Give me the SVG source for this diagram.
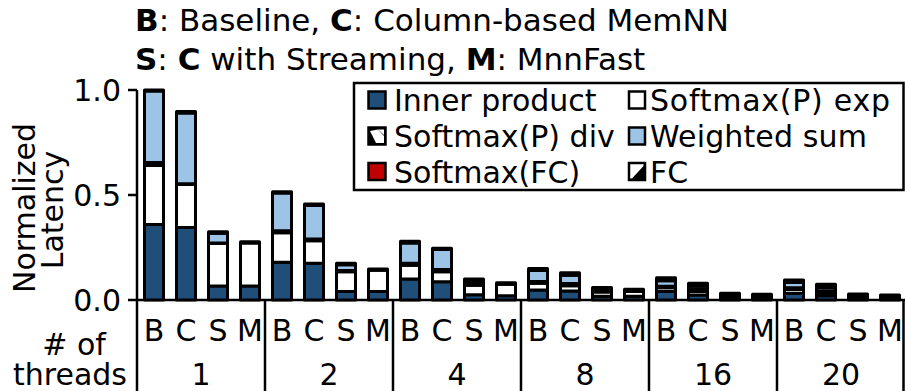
<svg xmlns="http://www.w3.org/2000/svg" width="905" height="391" viewBox="0 0 905 391">
<style>
text{font-family:"DejaVu Sans","Liberation Sans",sans-serif;font-size:30px;fill:#000}
.t{font-size:31px}
.b{font-weight:bold}
.ax{stroke:#000;stroke-width:2.5;fill:none}
.seg{stroke:#000;stroke-width:3;stroke-linejoin:round}
.ip{fill:#1f4e79}
.ex{fill:#fff}
.dv{fill:#000}
.ws{fill:#9dc3e6}
.sf{fill:#c00000}
.fc{fill:#000}
.sw{stroke:#000;stroke-width:2.5}
</style>
<rect width="905" height="391" fill="#fff"/>
<g id="title">
<text class="t" x="135" y="31"><tspan class="b">B</tspan>: Baseline, <tspan class="b">C</tspan>: Column-based MemNN</text>
<text class="t" x="135" y="70"><tspan class="b">S</tspan>: <tspan class="b">C</tspan> with Streaming, <tspan class="b">M</tspan>: MnnFast</text>
</g>
<g id="axes">
<line class="ax" x1="137" y1="90" x2="137" y2="391"/>
<line class="ax" x1="128" y1="300" x2="905" y2="300"/>
<line class="ax" x1="128" y1="90" x2="137" y2="90"/>
<line class="ax" x1="128" y1="195" x2="137" y2="195"/>
<line class="ax" x1="265" y1="300" x2="265" y2="391"/>
<line class="ax" x1="393" y1="300" x2="393" y2="391"/>
<line class="ax" x1="521" y1="300" x2="521" y2="391"/>
<line class="ax" x1="649" y1="300" x2="649" y2="391"/>
<line class="ax" x1="777" y1="300" x2="777" y2="391"/>
<line class="ax" x1="903.5" y1="300" x2="903.5" y2="391"/>
<text x="121" y="101" text-anchor="end">1.0</text>
<text x="121" y="206" text-anchor="end">0.5</text>
<text x="121" y="311" text-anchor="end">0.0</text>
<text transform="translate(35,208) rotate(-90)" text-anchor="middle">Normalized</text>
<text transform="translate(63,210) rotate(-90)" text-anchor="middle">Latency</text>
</g>
<g id="bars">
<g id="bar-1-B">
<rect class="seg ip" x="144.5" y="224.4" width="19" height="75.6"/>
<rect class="seg ex" x="144.5" y="165.6" width="19" height="58.8"/>
<rect class="seg dv" x="144.5" y="162.45" width="19" height="3.15"/>
<rect class="seg ws" x="144.5" y="91.05" width="19" height="71.4"/>
<rect class="seg fc" x="144.5" y="90" width="19" height="1.05"/>
</g>
<g id="bar-1-C">
<rect class="seg ip" x="176.5" y="227.55" width="19" height="72.45"/>
<rect class="seg ex" x="176.5" y="184.5" width="19" height="43.05"/>
<rect class="seg dv" x="176.5" y="183.87" width="19" height="0.63"/>
<rect class="seg ws" x="176.5" y="113.1" width="19" height="70.77"/>
<rect class="seg fc" x="176.5" y="111.42" width="19" height="1.68"/>
</g>
<g id="bar-1-S">
<rect class="seg ip" x="208.5" y="285.93" width="19" height="14.07"/>
<rect class="seg ex" x="208.5" y="243.3" width="19" height="42.63"/>
<rect class="seg dv" x="208.5" y="242.88" width="19" height="0.42"/>
<rect class="seg ws" x="208.5" y="233.22" width="19" height="9.66"/>
<rect class="seg fc" x="208.5" y="231.75" width="19" height="1.47"/>
</g>
<g id="bar-1-M">
<rect class="seg ip" x="240.5" y="285.93" width="19" height="14.07"/>
<rect class="seg ex" x="240.5" y="242.88" width="19" height="43.05"/>
<rect class="seg fc" x="240.5" y="241.83" width="19" height="1.05"/>
</g>
<g id="bar-2-B">
<rect class="seg ip" x="272.5" y="262.2" width="19" height="37.8"/>
<rect class="seg ex" x="272.5" y="232.8" width="19" height="29.4"/>
<rect class="seg dv" x="272.5" y="230.7" width="19" height="2.1"/>
<rect class="seg ws" x="272.5" y="192.9" width="19" height="37.8"/>
<rect class="seg fc" x="272.5" y="191.64" width="19" height="1.26"/>
</g>
<g id="bar-2-C">
<rect class="seg ip" x="304.5" y="263.25" width="19" height="36.75"/>
<rect class="seg ex" x="304.5" y="240.78" width="19" height="22.47"/>
<rect class="seg dv" x="304.5" y="239.1" width="19" height="1.68"/>
<rect class="seg ws" x="304.5" y="205.5" width="19" height="33.6"/>
<rect class="seg fc" x="304.5" y="204.03" width="19" height="1.47"/>
</g>
<g id="bar-2-S">
<rect class="seg ip" x="336.5" y="291.6" width="19" height="8.4"/>
<rect class="seg ex" x="336.5" y="271.65" width="19" height="19.95"/>
<rect class="seg dv" x="336.5" y="270.6" width="19" height="1.05"/>
<rect class="seg ws" x="336.5" y="264.72" width="19" height="5.88"/>
<rect class="seg fc" x="336.5" y="263.25" width="19" height="1.47"/>
</g>
<g id="bar-2-M">
<rect class="seg ip" x="368.5" y="291.6" width="19" height="8.4"/>
<rect class="seg ex" x="368.5" y="270.18" width="19" height="21.42"/>
<rect class="seg fc" x="368.5" y="268.92" width="19" height="1.26"/>
</g>
<g id="bar-4-B">
<rect class="seg ip" x="400.5" y="279" width="19" height="21"/>
<rect class="seg ex" x="400.5" y="265.35" width="19" height="13.65"/>
<rect class="seg dv" x="400.5" y="263.25" width="19" height="2.1"/>
<rect class="seg ws" x="400.5" y="242.88" width="19" height="20.37"/>
<rect class="seg fc" x="400.5" y="241.2" width="19" height="1.68"/>
</g>
<g id="bar-4-C">
<rect class="seg ip" x="432.5" y="281.73" width="19" height="18.27"/>
<rect class="seg ex" x="432.5" y="271.65" width="19" height="10.08"/>
<rect class="seg dv" x="432.5" y="269.55" width="19" height="2.1"/>
<rect class="seg ws" x="432.5" y="249.6" width="19" height="19.95"/>
<rect class="seg fc" x="432.5" y="248.13" width="19" height="1.47"/>
</g>
<g id="bar-4-S">
<rect class="seg ip" x="464.5" y="294.75" width="19" height="5.25"/>
<rect class="seg ex" x="464.5" y="285.3" width="19" height="9.45"/>
<rect class="seg dv" x="464.5" y="284.04" width="19" height="1.26"/>
<rect class="seg ws" x="464.5" y="281.52" width="19" height="2.52"/>
<rect class="seg fc" x="464.5" y="279" width="19" height="2.52"/>
</g>
<g id="bar-4-M">
<rect class="seg ip" x="496.5" y="295.8" width="19" height="4.2"/>
<rect class="seg ex" x="496.5" y="284.25" width="19" height="11.55"/>
<rect class="seg fc" x="496.5" y="282.78" width="19" height="1.47"/>
</g>
<g id="bar-8-B">
<rect class="seg ip" x="528.5" y="289.92" width="19" height="10.08"/>
<rect class="seg ex" x="528.5" y="283.2" width="19" height="6.72"/>
<rect class="seg dv" x="528.5" y="281.52" width="19" height="1.68"/>
<rect class="seg ws" x="528.5" y="270.6" width="19" height="10.92"/>
<rect class="seg fc" x="528.5" y="268.5" width="19" height="2.1"/>
</g>
<g id="bar-8-C">
<rect class="seg ip" x="560.5" y="290.97" width="19" height="9.03"/>
<rect class="seg ex" x="560.5" y="285.72" width="19" height="5.25"/>
<rect class="seg dv" x="560.5" y="283.62" width="19" height="2.1"/>
<rect class="seg ws" x="560.5" y="275.22" width="19" height="8.4"/>
<rect class="seg fc" x="560.5" y="272.7" width="19" height="2.52"/>
</g>
<g id="bar-8-S">
<rect class="seg ip" x="592.5" y="296.22" width="19" height="3.78"/>
<rect class="seg ex" x="592.5" y="292.02" width="19" height="4.2"/>
<rect class="seg dv" x="592.5" y="290.76" width="19" height="1.26"/>
<rect class="seg ws" x="592.5" y="289.5" width="19" height="1.26"/>
<rect class="seg fc" x="592.5" y="287.61" width="19" height="1.89"/>
</g>
<g id="bar-8-M">
<rect class="seg ip" x="624.5" y="296.22" width="19" height="3.78"/>
<rect class="seg ex" x="624.5" y="291.6" width="19" height="4.62"/>
<rect class="seg fc" x="624.5" y="289.29" width="19" height="2.31"/>
</g>
<g id="bar-16-B">
<rect class="seg ip" x="656.5" y="291.6" width="19" height="8.4"/>
<rect class="seg ex" x="656.5" y="287.8" width="19" height="3.8"/>
<rect class="seg dv" x="656.5" y="286.14" width="19" height="1.66"/>
<rect class="seg ws" x="656.5" y="280.68" width="19" height="5.46"/>
<rect class="seg fc" x="656.5" y="277.74" width="19" height="2.94"/>
</g>
<g id="bar-16-C">
<rect class="seg ip" x="688.5" y="294.96" width="19" height="5.04"/>
<rect class="seg ex" x="688.5" y="291.6" width="19" height="3.36"/>
<rect class="seg dv" x="688.5" y="289.5" width="19" height="2.1"/>
<rect class="seg ws" x="688.5" y="286.14" width="19" height="3.36"/>
<rect class="seg fc" x="688.5" y="283.2" width="19" height="2.94"/>
</g>
<g id="bar-16-S">
<rect class="seg ip" x="720.5" y="298.3" width="19" height="1.7"/>
<rect class="seg fc" x="720.5" y="293.3" width="19" height="5"/>
</g>
<g id="bar-16-M">
<rect class="seg ip" x="752.5" y="298.3" width="19" height="1.7"/>
<rect class="seg fc" x="752.5" y="294.3" width="19" height="4"/>
</g>
<g id="bar-20-B">
<rect class="seg ip" x="784.5" y="293.28" width="19" height="6.72"/>
<rect class="seg ex" x="784.5" y="289.5" width="19" height="3.78"/>
<rect class="seg dv" x="784.5" y="287.8" width="19" height="1.7"/>
<rect class="seg ws" x="784.5" y="282.57" width="19" height="5.23"/>
<rect class="seg fc" x="784.5" y="280.05" width="19" height="2.52"/>
</g>
<g id="bar-20-C">
<rect class="seg ip" x="816.5" y="295.8" width="19" height="4.2"/>
<rect class="seg ex" x="816.5" y="292.65" width="19" height="3.15"/>
<rect class="seg dv" x="816.5" y="290.76" width="19" height="1.89"/>
<rect class="seg ws" x="816.5" y="287.4" width="19" height="3.36"/>
<rect class="seg fc" x="816.5" y="284.25" width="19" height="3.15"/>
</g>
<g id="bar-20-S">
<rect class="seg ip" x="848.5" y="298.3" width="19" height="1.7"/>
<rect class="seg fc" x="848.5" y="293.9" width="19" height="4.4"/>
</g>
<g id="bar-20-M">
<rect class="seg ip" x="880.5" y="298.3" width="19" height="1.7"/>
<rect class="seg fc" x="880.5" y="295" width="19" height="3.3"/>
</g>
</g>
<g id="category-labels" text-anchor="middle">
<text x="154" y="341">B</text><text x="186" y="341">C</text><text x="218" y="341">S</text><text x="250" y="341">M</text>
<text x="282" y="341">B</text><text x="314" y="341">C</text><text x="346" y="341">S</text><text x="378" y="341">M</text>
<text x="410" y="341">B</text><text x="442" y="341">C</text><text x="474" y="341">S</text><text x="506" y="341">M</text>
<text x="538" y="341">B</text><text x="570" y="341">C</text><text x="602" y="341">S</text><text x="634" y="341">M</text>
<text x="666" y="341">B</text><text x="698" y="341">C</text><text x="730" y="341">S</text><text x="762" y="341">M</text>
<text x="794" y="341">B</text><text x="826" y="341">C</text><text x="858" y="341">S</text><text x="890" y="341">M</text>
<text x="201" y="385">1</text>
<text x="329" y="385">2</text>
<text x="457" y="385">4</text>
<text x="585" y="385">8</text>
<text x="713" y="385">16</text>
<text x="841" y="385">20</text>
<text x="74" y="355"># of</text>
<text x="70" y="385">threads</text>
</g>
<g id="legend">
<rect x="354" y="83" width="549.5" height="107" fill="#fff" stroke="#000" stroke-width="2.5"/>
<g id="legend-inner-product">
<rect class="sw ip" x="368.5" y="91.5" width="17" height="17"/>
<text x="394" y="111">Inner product</text>
</g>
<g id="legend-softmax-exp">
<rect class="sw ex" x="629" y="91.5" width="16" height="17"/>
<text x="650" y="111" textLength="240">Softmax(P) exp</text>
</g>
<g id="legend-softmax-div">
<rect class="sw" x="368.5" y="127.5" width="17" height="17" fill="#000"/>
<path d="M370 131 L378 129.5 L384 136 L384 143 L376 143 Z" fill="#fff"/>
<path d="M378 129.5 L384 129.5 L384 135 Z" fill="#fff"/>
<text x="394" y="147">Softmax(P) div</text>
</g>
<g id="legend-weighted-sum">
<rect class="sw ws" x="629" y="127.5" width="16" height="17"/>
<text x="650" y="147" textLength="217">Weighted sum</text>
</g>
<g id="legend-softmax-fc">
<rect class="sw sf" x="368.5" y="163" width="17" height="17"/>
<text x="394" y="182.5">Softmax(FC)</text>
</g>
<g id="legend-fc">
<rect class="sw" x="629" y="163" width="16" height="17" fill="#fff"/>
<path d="M645 163 L645 180 L629 180 Z" fill="#000"/>
<path d="M631 178 L643 165" stroke="#fff" stroke-width="2"/>
<text x="650" y="182.5">FC</text>
</g>
</g>
</svg>
